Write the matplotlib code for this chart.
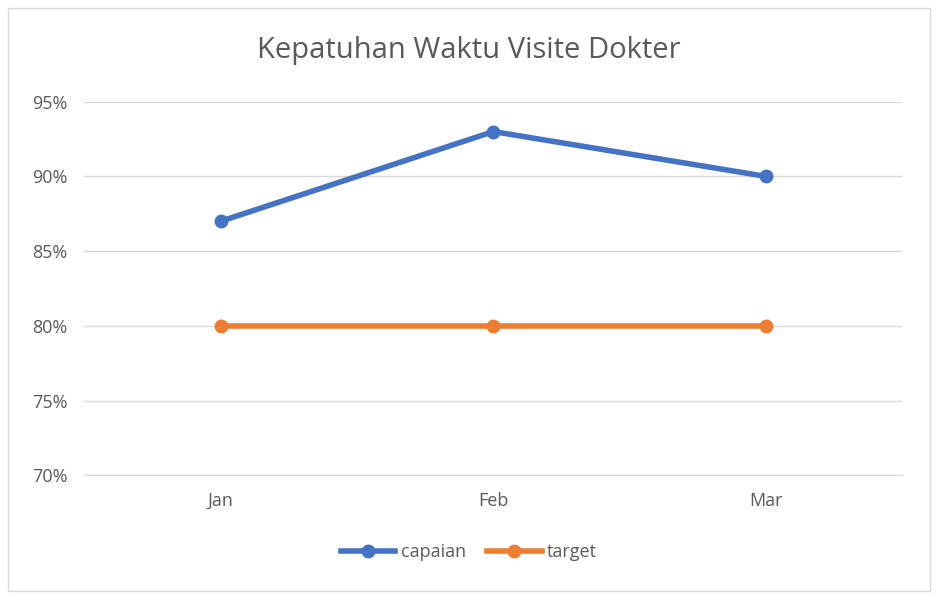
import matplotlib
matplotlib.use("Agg")
import matplotlib.pyplot as plt
from matplotlib.ticker import FuncFormatter

months = ["Jan", "Feb", "Mar"]
capaian = [87, 93, 90]
target = [80, 80, 80]

plt.rcParams['font.family'] = ['Open Sans', 'DejaVu Sans']
fig = plt.figure(figsize=(9.38, 5.98), dpi=100)
fig.patches.append(plt.Rectangle((0.008, 0.012), 0.984, 0.975, transform=fig.transFigure,
                                 fill=False, edgecolor='#d9d9d9', lw=1))
ax = fig.add_axes([0.09, 0.205, 0.872, 0.625])
x = range(len(months))
ax.plot(x, capaian, color='#4472c4', lw=4, marker='o', ms=9, label='capaian')
ax.plot(x, target, color='#ed7d31', lw=4, marker='o', ms=9, label='target')
ax.set_xlim(-0.5, 2.5)
ax.set_ylim(70, 95)
ax.set_yticks([70, 75, 80, 85, 90, 95])
ax.yaxis.set_major_formatter(FuncFormatter(lambda v, p: f"{v:.0f}%"))
ax.set_xticks(list(x))
ax.set_xticklabels(months)
ax.grid(axis='y', color='#d9d9d9', lw=1)
ax.set_axisbelow(True)
for s in ax.spines.values():
    s.set_visible(False)
ax.spines['bottom'].set_visible(True)
ax.spines['bottom'].set_color('#d9d9d9')
ax.tick_params(length=0, labelsize=13, colors='#595959', pad=12)
fig.text(0.5, 0.915, "Kepatuhan Waktu Visite Dokter", ha='center', va='center',
         fontsize=21, color='#595959')
fig.legend(loc='center', bbox_to_anchor=(0.5, 0.077), ncol=2, frameon=False,
           fontsize=13, labelcolor='#595959', handlelength=3, columnspacing=1.2, handletextpad=0.3)
fig.savefig("out.png", dpi=100)
